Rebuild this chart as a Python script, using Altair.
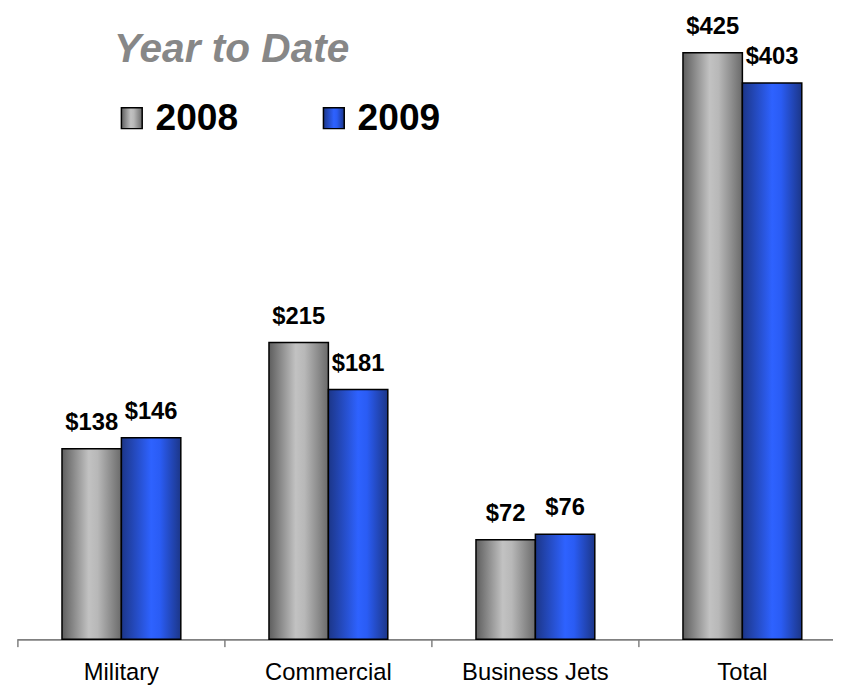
import altair as alt
import pandas as pd

categories = ["Military", "Commercial", "Business Jets", "Total"]
years = ["2008", "2009"]
values_2008 = [138, 215, 72, 425]
values_2009 = [146, 181, 76, 403]
title_text = "Year to Date"

rows = []
for c, v in zip(categories, values_2008):
    rows.append({"category": c, "year": "2008", "value": v, "label": f"${v}"})
for c, v in zip(categories, values_2009):
    rows.append({"category": c, "year": "2009", "value": v, "label": f"${v}"})
df = pd.DataFrame(rows)

def grad(stops):
    return alt.Gradient(
        gradient="linear",
        stops=[alt.GradientStop(offset=o, color=c) for o, c in stops],
        x1=0, x2=1, y1=0, y2=0,
    )

fills = {
    "2008": grad([(0, "#5e5e5e"), (0.45, "#c2c2c2"), (0.6, "#b8b8b8"), (1, "#6a6a6a")]),
    "2009": grad([(0, "#1c3688"), (0.5, "#2e62ff"), (0.65, "#2a5cf4"), (1, "#1c3688")]),
}

x_scale = alt.Scale(range=[0, 836], paddingInner=0, paddingOuter=0)
x_axis = alt.Axis(
    title=None,
    labelAngle=0,
    domain=False,
    ticks=False,
    tickSize=0,
    labelPadding=22,
    labelFont="Liberation Sans",
    labelFontSize=24,
    labelColor="#000000",
    grid=False,
)
x_enc = alt.X("category:N", sort=categories, scale=x_scale, axis=x_axis)
xoff_enc = alt.XOffset(
    "year:N",
    scale=alt.Scale(domain=years, paddingInner=0, paddingOuter=0.742),
)
y_enc = alt.Y("value:Q", scale=alt.Scale(domain=[0, 450], nice=False), axis=None)

layers = []

# axis line and category boundary ticks
axis_line = alt.Chart(df).mark_rule(color="#808080", strokeWidth=1).encode(
    x=alt.value(0), x2=alt.value(823), y=alt.value(627.5)
)
ticks = alt.Chart(df).mark_rule(color="#808080", strokeWidth=1).encode(
    x=alt.X("category:N", sort=categories, scale=x_scale, bandPosition=0, axis=x_axis),
    y=alt.value(627.5), y2=alt.value(635),
)
layers += [axis_line, ticks]

for yr in years:
    sub = df[df["year"] == yr]
    bars = alt.Chart(sub).mark_bar(
        color=fills[yr], stroke="#000000", strokeWidth=1.5
    ).encode(x=x_enc, xOffset=xoff_enc, y=y_enc)
    labels = alt.Chart(sub).mark_text(
        font="Liberation Sans", fontSize=24, fontWeight="bold",
        baseline="alphabetic", dy=-19, color="#000000",
    ).encode(x=x_enc, xOffset=xoff_enc, y=y_enc, text="label:N")
    layers += [bars, labels]

title_df = pd.DataFrame({"t": [title_text]})
title = alt.Chart(title_df).mark_text(
    font="Liberation Sans", fontSize=41, fontWeight="bold", fontStyle="italic",
    color="#878787", align="left", baseline="alphabetic",
).encode(x=alt.value(97), y=alt.value(44), text="t:N")
layers.append(title)

legend_x = {"2008": 115, "2009": 319}
for yr in years:
    ldf = pd.DataFrame({"year": [yr]})
    sq = alt.Chart(ldf).mark_square(
        size=441, color=fills[yr], stroke="#000000", strokeWidth=1.5, opacity=1
    ).encode(x=alt.value(legend_x[yr]), y=alt.value(101))
    tx = alt.Chart(ldf).mark_text(
        font="Liberation Sans", fontSize=37.5, fontWeight="bold", color="#000000",
        align="left", baseline="alphabetic",
    ).encode(x=alt.value(legend_x[yr] + 24), y=alt.value(113), text="year:N")
    layers += [sq, tx]

chart = alt.layer(*layers).properties(
    width=823,
    height=627,
    autosize=alt.AutoSizeParams(type="none"),
    padding={"left": 10, "top": 7, "right": 0, "bottom": 46},
).configure_view(stroke=None)

chart.save("out.html", embed_options={"renderer": "svg", "actions": False})
